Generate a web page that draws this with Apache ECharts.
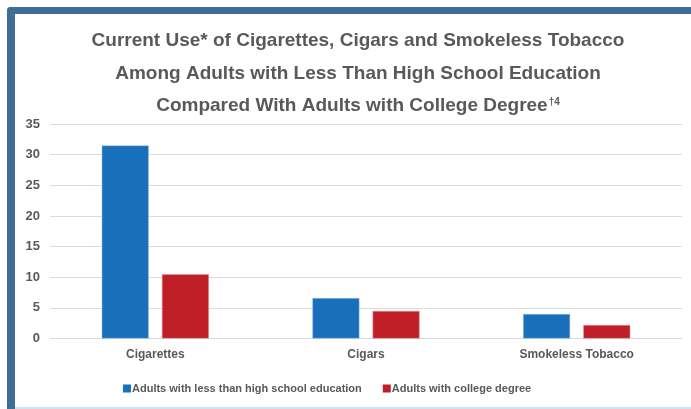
<!DOCTYPE html>
<html><head><meta charset="utf-8">
<script src="https://cdn.jsdelivr.net/npm/echarts@6/dist/echarts.min.js"></script>
<style>html,body{margin:0;padding:0;background:#fff}#c{width:691px;height:409px}</style>
</head><body><div id="c"></div>
<script>
var categories = ['Cigarettes', 'Cigars', 'Smokeless Tobacco'];
var lessThanHS = [31.5, 6.6, 4.0];
var collegeDegree = [10.5, 4.5, 2.2];
var seriesNames = ['Adults with less than high school education', 'Adults with college degree'];
var titleLines = ['Current Use* of Cigarettes, Cigars and Smokeless Tobacco', 'Among Adults with Less Than High School Education', 'Compared With Adults with College Degree{sup|†4}'];

var chart = echarts.init(document.getElementById('c'), null, {renderer: 'canvas'});
var sans = '"Liberation Sans", Arial, sans-serif';
chart.setOption({
  backgroundColor: '#fff',
  animation: false,
  graphic: [
    {type: 'rect', shape: {x: 7, y: 7, width: 684, height: 7, r: [4, 0, 0, 0]}, style: {fill: '#3e6e95'}},
    {type: 'rect', shape: {x: 7, y: 7, width: 8, height: 402, r: [4, 0, 0, 0]}, style: {fill: '#3e6e95'}},
    {type: 'rect', shape: {x: 15, y: 407, width: 676, height: 2}, style: {fill: '#cfe3f3'}}
  ],
  title: {
    text: titleLines.join('\n'),
    left: 353, top: 20, textAlign: 'center',
    textStyle: {
      fontFamily: sans, fontWeight: 'bold', fontSize: 19, color: '#595959', lineHeight: 32.5,
      rich: {sup: {fontFamily: sans, fontWeight: 'bold', fontSize: 10, color: '#595959', verticalAlign: 'middle', lineHeight: 32.5, padding: [0, 0, 9, 1]}}
    }
  },
  grid: {left: 50, right: 9, top: 124, bottom: 70.5, containLabel: false},
  legend: {
    data: seriesNames,
    bottom: 10, left: 118,
    itemWidth: 8, itemHeight: 8, itemGap: 21,
    icon: 'rect',
    itemStyle: {borderWidth: 0},
    textStyle: {fontFamily: sans, fontWeight: 'bold', fontSize: 11, color: '#595959', padding: [0, 0, 0, -4]}
  },
  xAxis: {
    type: 'category', data: categories,
    axisLine: {show: true, lineStyle: {color: '#d9d9d9'}},
    axisTick: {show: false},
    axisLabel: {fontFamily: sans, fontWeight: 'bold', fontSize: 12, color: '#595959', margin: 10}
  },
  yAxis: {
    type: 'value', min: 0, max: 35, interval: 5,
    axisLine: {show: false}, axisTick: {show: false},
    splitLine: {lineStyle: {color: '#dcdcdc', width: 1}},
    axisLabel: {fontFamily: sans, fontWeight: 'bold', fontSize: 13, color: '#595959', margin: 10}
  },
  series: [
    {name: seriesNames[0], type: 'bar', data: lessThanHS, barWidth: 47, barGap: '28%',
     itemStyle: {color: '#1a6fba', borderColor: '#9cc3e6', borderWidth: 0.5}},
    {name: seriesNames[1], type: 'bar', data: collegeDegree, barWidth: 47,
     itemStyle: {color: '#c01f28', borderColor: '#e3a0a4', borderWidth: 0.5}}
  ]
});
</script></body></html>
